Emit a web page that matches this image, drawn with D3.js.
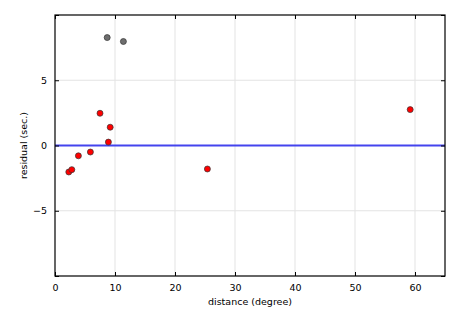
<!DOCTYPE html>
<html>
<head>
<meta charset="utf-8">
<script src="https://cdn.jsdelivr.net/npm/d3@7"></script>
<style>
	body { margin: 0; background: #fff; }
	svg text { font-family: "DejaVu Sans", sans-serif; font-size: 9.5px; fill: #000; }
</style>
</head>
<body>
<div id="chart"></div>
<script>
// residuals vs distance
var distRed = [2.3, 2.8, 3.9, 5.9, 7.5, 8.9, 9.2, 25.4, 59.2];
var residRed = [-2.03, -1.85, -0.79, -0.50, 2.47, 0.26, 1.40, -1.80, 2.75];
var distGray = [8.7, 11.4];
var residGray = [8.27, 7.97];
var xTicks = [0, 10, 20, 30, 40, 50, 60];
var yTicks = [-10, -5, 0, 5, 10];
var yLabels = [-5, 0, 5];

var width = 465, height = 315;
var margin = {left: 55, top: 15, right: 20, bottom: 39};

var svg = d3.select("#chart").append("svg")
	.attr("width", width).attr("height", height);

var x = d3.scaleLinear().domain([0, 65]).range([margin.left, width - margin.right]);
var y = d3.scaleLinear().domain([-10, 10]).range([height - margin.bottom, margin.top]);

// grid
svg.append("g").selectAll("line").data(xTicks.slice(1))
	.enter().append("line")
	.attr("x1", function(d){ return x(d); }).attr("x2", function(d){ return x(d); })
	.attr("y1", y(10)).attr("y2", y(-10))
	.attr("stroke", "#e3e3e3").attr("stroke-width", 1);
svg.append("g").selectAll("line").data([-5, 5])
	.enter().append("line")
	.attr("y1", function(d){ return y(d); }).attr("y2", function(d){ return y(d); })
	.attr("x1", x(0)).attr("x2", x(65))
	.attr("stroke", "#e3e3e3").attr("stroke-width", 1);

// zero line
svg.append("line")
	.attr("x1", x(0)).attr("x2", x(65))
	.attr("y1", y(0)).attr("y2", y(0))
	.attr("stroke", "#4444ee").attr("stroke-width", 2);

// points
function dots(xs, ys, fill){
	svg.append("g").selectAll("circle").data(xs)
		.enter().append("circle")
		.attr("cx", function(d){ return x(d); })
		.attr("cy", function(d, i){ return y(ys[i]); })
		.attr("r", 3)
		.attr("fill", fill)
		.attr("stroke", "#333").attr("stroke-width", 0.7);
}
dots(distGray, residGray, "#6e6e6e");
dots(distRed, residRed, "#f00");

// axes with inward ticks on all sides
var xAxis = d3.axisBottom(x).tickValues(xTicks).tickSize(-4).tickPadding(8);
var xAxisTop = d3.axisTop(x).tickValues(xTicks).tickSize(-4).tickFormat("");
var yAxis = d3.axisLeft(y).tickValues(yTicks).tickSize(-4).tickPadding(8)
	.tickFormat(function(d){ return yLabels.indexOf(d) >= 0 ? d3.format("")(d).replace("-", "\u2212") : ""; });
var yAxisRight = d3.axisRight(y).tickValues(yTicks).tickSize(-4).tickFormat("");

svg.append("g").attr("transform", "translate(0," + y(-10) + ")").call(xAxis);
svg.append("g").attr("transform", "translate(0," + y(10) + ")").call(xAxisTop);
svg.append("g").attr("transform", "translate(" + x(0) + ",0)").call(yAxis);
svg.append("g").attr("transform", "translate(" + x(65) + ",0)").call(yAxisRight);
svg.selectAll(".domain").remove();
svg.selectAll(".tick line").attr("stroke", "#000");
svg.selectAll(".tick text").attr("font-family", null).attr("font-size", null);

// frame
svg.append("rect")
	.attr("x", x(0)).attr("y", y(10))
	.attr("width", x(65) - x(0)).attr("height", y(-10) - y(10))
	.attr("fill", "none").attr("stroke", "#000").attr("stroke-width", 1.2);

svg.append("text")
	.attr("x", (x(0) + x(65)) / 2).attr("y", 305)
	.attr("text-anchor", "middle")
	.text("distance (degree)");

svg.append("text")
	.attr("transform", "translate(27," + y(0) + ") rotate(-90)")
	.attr("text-anchor", "middle")
	.text("residual (sec.)");
</script>
</body>
</html>
